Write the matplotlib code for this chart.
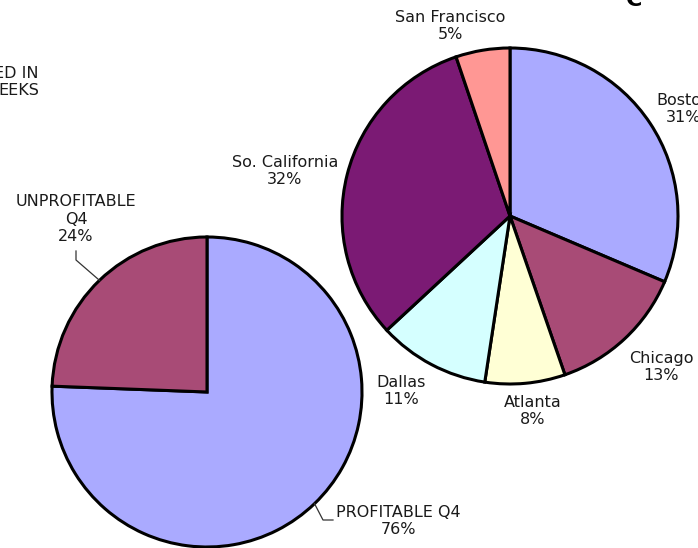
import matplotlib.pyplot as plt
import numpy as np

# left pie: profitability in Q4
q4_names = ['PROFITABLE Q4', 'UNPROFITABLE\nQ4']
q4_values = [75.6, 24.4]
q4_colors = ['#AAAAFF', '#A84B76']

# right pie: share by office
office_names = ['Boston', 'Chicago', 'Atlanta', 'Dallas', 'So. California', 'San Francisco']
office_values = [31.4, 13.3, 7.7, 10.7, 31.7, 5.2]
office_colors = ['#AAAAFF', '#A84B76', '#FFFFD5', '#D5FFFF', '#7B1A74', '#FF9794']

W, H = 698, 548
FS = 11.5

# label centres (pixel coords from top-left), layout only
q4_label_xy = [(398, 521), (76, 219)]
office_label_xy = [(684, 109), (661, 367), (533, 411), (401, 391), (285, 171), (450, 26)]


def px(x, y):
    return x, H - y


def draw_pie(ax, values, colors, center, radius):
    wedges, _ = ax.pie(values, colors=colors, startangle=90, counterclock=False,
                       center=px(*center), radius=radius,
                       wedgeprops=dict(edgecolor='black', linewidth=2.2))
    return wedges


def edge_point(wedge, center, radius):
    mid = np.deg2rad((wedge.theta1 + wedge.theta2) / 2)
    cx, cy = px(*center)
    return cx + radius * np.cos(mid), cy + radius * np.sin(mid)


fig = plt.figure(figsize=(W / 100, H / 100), dpi=100)
ax = fig.add_axes([0, 0, 1, 1])

left_c, left_r = (207, 392), 155
right_c, right_r = (510, 216), 168

q4_wedges = draw_pie(ax, q4_values, q4_colors, left_c, left_r)
office_wedges = draw_pie(ax, office_values, office_colors, right_c, right_r)

for name, val, xy in zip(office_names, office_values, office_label_xy):
    ax.text(*px(*xy), f'{name}\n{round(val)}%', ha='center', va='center',
            fontsize=FS, color='#1a1a1a', linespacing=1.2)

for name, val, xy in zip(q4_names, q4_values, q4_label_xy):
    ax.text(*px(*xy), f'{name}\n{round(val)}%', ha='center', va='center',
            fontsize=FS, color='#1a1a1a', linespacing=1.2)

# leader lines for the left pie
ex, ey = edge_point(q4_wedges[1], left_c, left_r)
ax.plot([px(76, 251)[0], px(76, 260)[0], ex], [px(76, 251)[1], px(76, 260)[1], ey],
        color='#333333', lw=0.9)
ex, ey = edge_point(q4_wedges[0], left_c, left_r)
ax.plot([ex, px(323, 520)[0], px(333, 520)[0]], [ey, px(323, 520)[1], px(333, 520)[1]],
        color='#333333', lw=0.9)

# cropped title fragments
ax.text(*px(39, 82), 'ED IN\nEEKS', ha='right', va='center', fontsize=FS,
        color='#1a1a1a', linespacing=1.2)
ax.text(*px(634, 6), 'C', ha='center', va='baseline', fontsize=16,
        fontweight='bold', color='black')

ax.set_xlim(0, W)
ax.set_ylim(0, H)
ax.set_aspect('equal')
ax.axis('off')

fig.savefig('out.png', dpi=100)
